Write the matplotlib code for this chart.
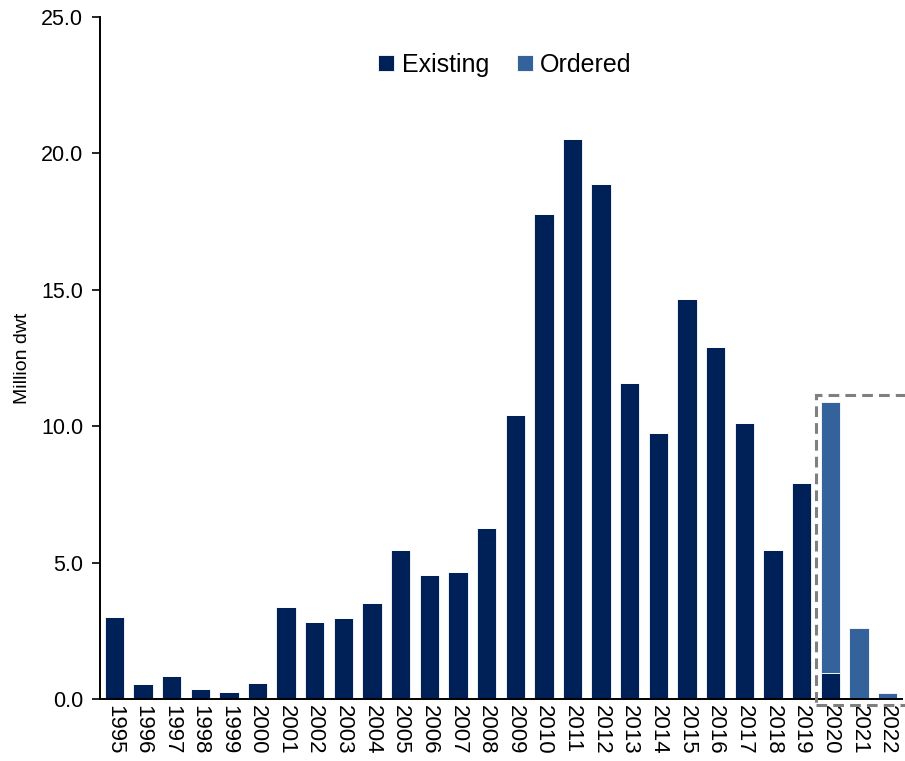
import numpy as np
import matplotlib.pyplot as plt
from matplotlib.patches import Rectangle

plt.rcParams['font.family'] = ['Liberation Sans', 'DejaVu Sans']

years = [str(y) for y in range(1995, 2023)]
existing = [3.00, 0.55, 0.85, 0.36, 0.24, 0.59, 3.38, 2.84, 2.98, 3.52,
            5.47, 4.55, 4.66, 6.28, 10.42, 17.77, 20.53, 18.86, 11.59, 9.76,
            14.67, 12.92, 10.10, 5.46, 7.90, 0.95, 0.00, 0.00]
ordered = [0.0] * 25 + [9.92, 2.59, 0.22]

dark = '#002157'
light = '#33639A'

fig = plt.figure(figsize=(9.05, 7.61), dpi=100)
ax = fig.add_axes([0.1105, 0.0815, 0.886, 0.8962])

x = np.arange(len(years))
w = 0.675
ax.bar(x, existing, w, color=dark, edgecolor='white', linewidth=0.6, label='Existing')
ax.bar(x, ordered, w, bottom=existing, color=light, edgecolor='white',
       linewidth=0.6, label='Ordered')

ax.set_xlim(-0.5, 27.5)
ax.set_ylim(0, 25)
ax.set_yticks(np.arange(0, 25.1, 5))
ax.set_yticklabels([f'{v:.1f}' for v in np.arange(0, 25.1, 5)], fontsize=15.5)
ax.set_xticks(x)
ax.set_xticklabels(years, rotation=270, fontsize=16)
ax.tick_params(axis='x', length=0, pad=4)
ax.tick_params(axis='y', length=6, width=1.2, direction='out', pad=6)
ax.set_ylabel('Million dwt', fontsize=14, labelpad=7)

for side in ['top', 'right']:
    ax.spines[side].set_visible(False)
for side in ['left', 'bottom']:
    ax.spines[side].set_linewidth(1.4)

# dashed box around the orderbook years
box = Rectangle((24.5, -0.22), 3.2, 11.35, fill=False, edgecolor='#7F7F7F',
                linewidth=2.2, linestyle=(0, (3.5, 2)), clip_on=False, zorder=5)
ax.add_patch(box)

ax.legend(loc='center', bbox_to_anchor=(0.505, 0.93), ncol=2, frameon=False,
          fontsize=18, handlelength=0.65, handleheight=0.65, handletextpad=0.3,
          columnspacing=1.1)

fig.savefig('out.png', dpi=100)
